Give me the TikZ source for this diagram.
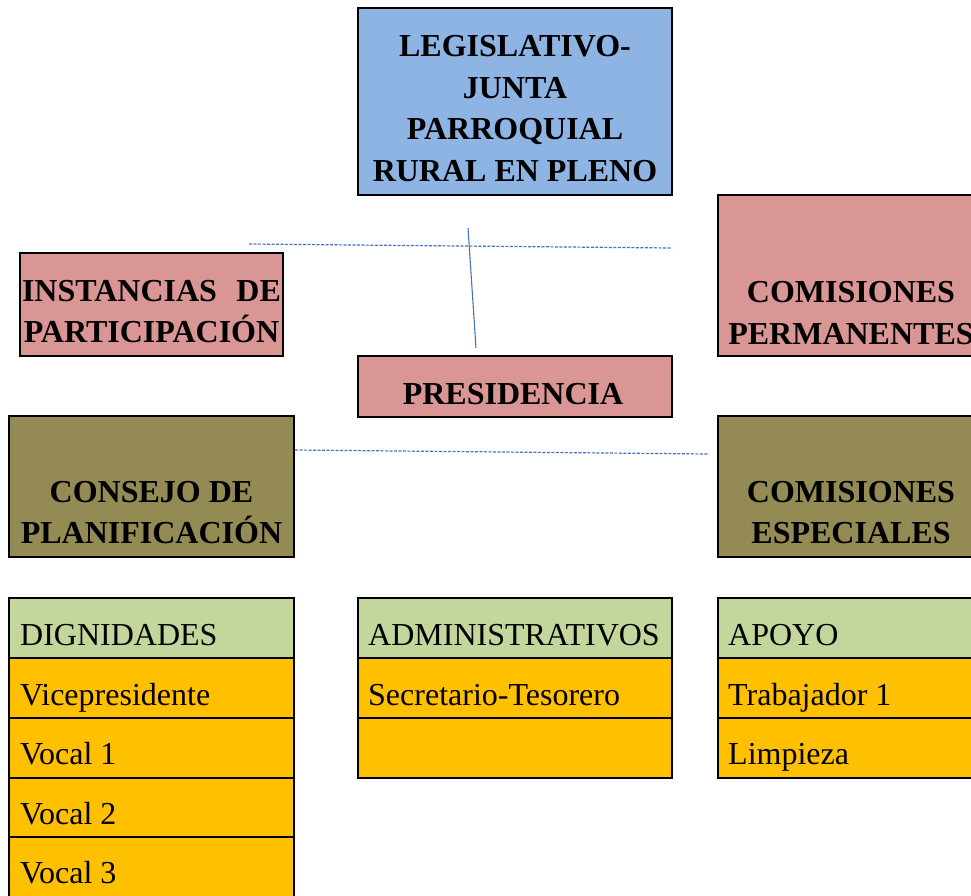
\documentclass[tikz,border=0pt]{standalone}
\usepackage{fontspec}
\setmainfont{Liberation Serif}
\definecolor{legblue}{HTML}{8EB4E3}
\definecolor{rosebox}{HTML}{D99694}
\definecolor{olivebox}{HTML}{948A54}
\definecolor{greenhead}{HTML}{C3D69B}
\definecolor{orangecell}{HTML}{FFC000}
\definecolor{linkblue}{HTML}{4472C4}
\begin{document}
\begin{tikzpicture}[x=1pt,y=-1pt,
  box/.style={draw=black, line width=2pt, inner sep=0pt, outer sep=0pt, anchor=north west},
  cell/.style={box, minimum width=#1, minimum height=60},
  btxt/.style={anchor=base, inner sep=0pt, font=\bfseries\fontsize{32}{40}\selectfont},
  rtxt/.style={anchor=base west, inner sep=0pt, font=\fontsize{32}{40}\selectfont},
  dashlink/.style={draw=linkblue, line width=1.2pt, dash pattern=on 3pt off 1.5pt},
  solidlink/.style={draw=linkblue, line width=1.1pt}]
\useasboundingbox (0,0) rectangle (971,895);
\fill[white] (0,0) rectangle (971,895);
\clip (0,0) rectangle (971,895);

% main boxes
\node[box, fill=legblue, minimum width=314, minimum height=187] (leg) at (358,8) {};
\node[box, fill=rosebox, minimum width=263, minimum height=103] (inst) at (20,253) {};
\node[box, fill=rosebox, minimum width=270, minimum height=161] (cperm) at (718,195) {};
\node[box, fill=rosebox, minimum width=314, minimum height=61] (pres) at (358,356) {};
\node[box, fill=olivebox, minimum width=285, minimum height=141] (consejo) at (9,416) {};
\node[box, fill=olivebox, minimum width=270, minimum height=141] (cesp) at (718,416) {};

% texts of main boxes
\node[btxt] (leg1) at (515,56) {LEGISLATIVO-};
\node[btxt] (leg2) at (515,98) {JUNTA};
\node[btxt] (leg3) at (515,139) {PARROQUIAL};
\node[btxt] (leg4) at (515,181) {RURAL EN PLENO};

\node[btxt, text width=259] (inst1) at (151.5,301) {INSTANCIAS\hfill DE};
\node[btxt] (inst2) at (151.5,342) {PARTICIPACIÓN};

\node[btxt] (cp1) at (851,302) {COMISIONES};
\node[btxt] (cp2) at (851,344) {PERMANENTES};

\node[btxt] (pres1) at (513,404) {PRESIDENCIA};

\node[btxt] (cons1) at (151.5,502) {CONSEJO DE};
\node[btxt] (cons2) at (151.5,543) {PLANIFICACIÓN};

\node[btxt] (ce1) at (851,502) {COMISIONES};
\node[btxt] (ce2) at (851,543) {ESPECIALES};

% connector lines
\coordinate (da) at (249,244);
\coordinate (db) at (672,248);
\coordinate (sa) at (468,228);
\coordinate (sb) at (476,348);
\coordinate (dc) at (295,450);
\coordinate (dd) at (709,454);
\draw[dashlink] (da) -- (db);
\draw[solidlink] (sa) -- (sb);
\draw[dashlink] (dc) -- (dd);

% DIGNIDADES table
\node[cell=285, fill=greenhead] (dig0) at (9,598) {};
\node[cell=285, fill=orangecell] (dig1) at (9,658) {};
\node[cell=285, fill=orangecell] (dig2) at (9,718) {};
\node[cell=285, fill=orangecell] (dig3) at (9,778) {};
\node[cell=285, fill=orangecell, minimum height=66] (dig4) at (9,837) {};
\node[rtxt] (dig0t) at (20,645) {DIGNIDADES};
\node[rtxt] (dig1t) at (20,705) {Vicepresidente};
\node[rtxt] (dig2t) at (20,764) {Vocal 1};
\node[rtxt] (dig3t) at (20,824) {Vocal 2};
\node[rtxt] (dig4t) at (20,883) {Vocal 3};

% ADMINISTRATIVOS table
\node[cell=314, fill=greenhead] (adm0) at (358,598) {};
\node[cell=314, fill=orangecell] (adm1) at (358,658) {};
\node[cell=314, fill=orangecell] (adm2) at (358,718) {};
\node[rtxt] (adm0t) at (368,645) {ADMINISTRATIVOS};
\node[rtxt] (adm1t) at (368,705) {Secretario-Tesorero};

% APOYO table
\node[cell=270, fill=greenhead] (apo0) at (718,598) {};
\node[cell=270, fill=orangecell] (apo1) at (718,658) {};
\node[cell=270, fill=orangecell] (apo2) at (718,718) {};
\node[rtxt] (apo0t) at (728,645) {APOYO};
\node[rtxt] (apo1t) at (728,705) {Trabajador 1};
\node[rtxt] (apo2t) at (728,764) {Limpieza};
\end{tikzpicture}
\end{document}
